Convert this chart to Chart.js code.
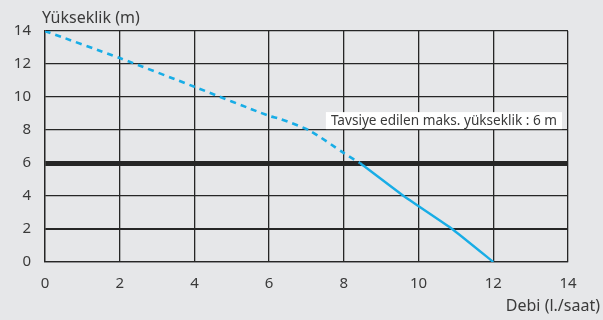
<!DOCTYPE html>
<html>
<head>
<meta charset="utf-8">
<script src="https://cdn.jsdelivr.net/npm/chart.js@4"></script>
<style>
  html, body { margin: 0; padding: 0; background: #e6e7e9; }
  #wrap { width: 603px; height: 320px; position: relative; }
</style>
</head>
<body>
<div id="wrap"><canvas id="c"></canvas></div>
<script>
// values
var dashedX = [0, 2, 4, 6, 6.3, 7.1, 8, 8.43];
var dashedY = [14, 12.36, 10.62, 8.85, 8.67, 7.94, 6.6, 6];
var solidX = [8.43, 9.6, 10.9, 12];
var solidY = [6, 4, 2, 0];
var xTicks = [0, 2, 4, 6, 8, 10, 12, 14];
var yTicks = [0, 2, 4, 6, 8, 10, 12, 14];
var limitValue = 6;
var limitLabel = 'Tavsiye edilen maks. yükseklik : 6 m';
var labelY = 8.6;
var yTitle = 'Yükseklik (m)';
var xTitle = 'Debi (l./saat)';

var FONT = '"Noto Sans", sans-serif';
var TEXT = '#3a3a3a';
var BLUE = '#18ade6';

var toPoints = function (xs, ys) {
    var pts = [];
    for (let i = 0; i < xs.length; ++i) {
        pts.push({x: xs[i], y: ys[i]});
    }
    return pts;
};

var extras = {
    id: 'extras',
    afterDraw: function (chart) {
        var ctx = chart.ctx;
        var area = chart.chartArea;
        var xs = chart.scales.x;
        var ys = chart.scales.y;
        ctx.save();
        ctx.fillStyle = TEXT;
        ctx.font = '16px ' + FONT;
        ctx.textBaseline = 'alphabetic';
        ctx.textAlign = 'left';
        ctx.fillText(yTitle, area.left - 3, 23);
        ctx.textAlign = 'right';
        ctx.fillText(xTitle, chart.width - 3, 311);

        // label box
        ctx.font = '13.6px ' + FONT;
        var w = ctx.measureText(limitLabel).width;
        var right = xs.getPixelForValue(14) - 6;
        var cy = ys.getPixelForValue(labelY);
        ctx.fillStyle = '#ffffff';
        ctx.fillRect(right - w - 10, cy - 8, w + 10, 17);
        ctx.fillStyle = TEXT;
        ctx.textAlign = 'right';
        ctx.textBaseline = 'middle';
        ctx.fillText(limitLabel, right - 5, cy + 1);
        ctx.restore();
    }
};

var gridWidth = function (c) {
    if (!c.tick) return 1.3;
    if (c.tick.value === limitValue) return 5;
    if (c.tick.value === 2) return 2;
    return 1.3;
};

new Chart(document.getElementById('c'), {
    type: 'scatter',
    data: {
        datasets: [{
            data: toPoints(dashedX, dashedY),
            showLine: true,
            borderColor: BLUE,
            borderWidth: 2.6,
            borderDash: [6, 5],
            pointRadius: 0,
            tension: 0.25
        }, {
            data: toPoints(solidX, solidY),
            showLine: true,
            borderColor: BLUE,
            borderWidth: 2.4,
            pointRadius: 0,
            tension: 0.1
        }]
    },
    options: {
        responsive: true,
        maintainAspectRatio: false,
        animation: false,
        layout: {padding: {top: 31, right: 35, bottom: 0, left: 0}},
        plugins: {legend: {display: false}, tooltip: {enabled: false}},
        scales: {
            x: {
                type: 'linear',
                min: 0, max: 14,
                afterBuildTicks: function (s) { s.ticks = xTicks.map(v => ({value: v})); },
                afterFit: function (s) { s.height = 58; },
                grid: {color: '#262626', lineWidth: 1.3, drawTicks: false},
                border: {color: '#262626', width: 1.3},
                ticks: {color: TEXT, font: {family: FONT, size: 15}, padding: 13}
            },
            y: {
                type: 'linear',
                min: 0, max: 14,
                afterBuildTicks: function (s) { s.ticks = yTicks.map(v => ({value: v})); },
                afterFit: function (s) { s.width = 45; },
                grid: {color: '#262626', lineWidth: gridWidth, drawTicks: false},
                border: {color: '#262626', width: 1.3},
                ticks: {color: TEXT, font: {family: FONT, size: 15}, padding: 14}
            }
        }
    },
    plugins: [extras]
});
</script>
</body>
</html>
